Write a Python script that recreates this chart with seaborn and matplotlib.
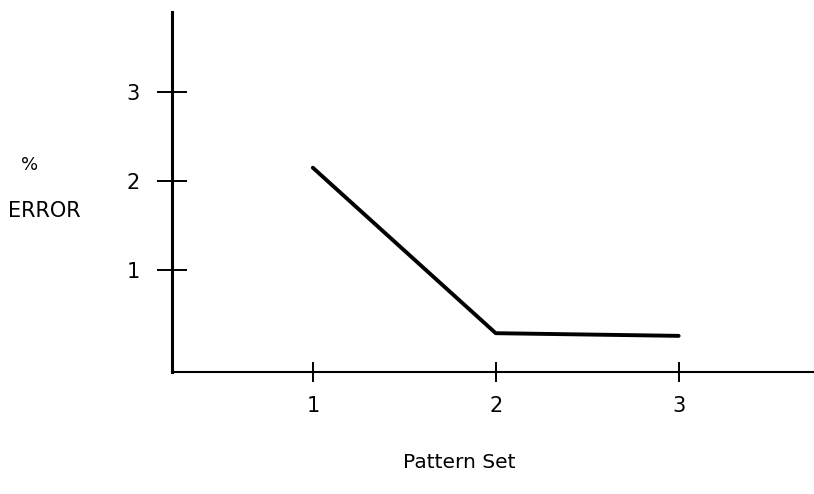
import matplotlib
matplotlib.use('Agg')
import matplotlib.pyplot as plt
import seaborn as sns
import pandas as pd

# Data
pattern_set = [1, 2, 3]
pct_error = [2.15, 0.29, 0.26]
x_ticks = [1, 2, 3]
y_ticks = [1, 2, 3]

df = pd.DataFrame({'Pattern Set': pattern_set, 'Error': pct_error})

sns.set_style('white')
plt.rcParams['font.family'] = ['DejaVu Sans']
plt.rcParams['text.color'] = 'black'
plt.rcParams['xtick.color'] = 'black'
plt.rcParams['ytick.color'] = 'black'

fig = plt.figure(figsize=(8.14, 4.94), dpi=100)
ax = fig.add_axes([0.2113, 0.247, 0.7887, 0.7287])

sns.lineplot(data=df, x='Pattern Set', y='Error', ax=ax, color='black', linewidth=2.8)

ax.set_xlim(0.23, 3.74)
ax.set_ylim(-0.146, 3.9)
ax.set_xticks(x_ticks)
ax.set_yticks(y_ticks)
ax.set_xticklabels([str(t) for t in x_ticks], fontsize=15)
ax.set_yticklabels([str(t) for t in y_ticks], fontsize=15)
ax.tick_params(axis='y', direction='inout', length=22, width=1.4, pad=12, left=True, labelcolor='black')
ax.tick_params(axis='x', direction='inout', length=14, width=1.4, pad=10, bottom=True, labelcolor='black')

for side in ['top', 'right']:
    ax.spines[side].set_visible(False)
ax.spines['left'].set_linewidth(2.2)
ax.spines['bottom'].set_linewidth(1.5)
ax.spines['left'].set_color('black')
ax.spines['bottom'].set_color('black')

ax.set_xlabel('')
ax.set_ylabel('')

fig.text(30 / 814, 1 - 165 / 494, '%', fontsize=13, ha='center', va='center', color='black')
fig.text(44 / 814, 1 - 211 / 494, 'ERROR', fontsize=15, ha='center', va='center', color='black')
fig.text(459 / 814, 1 - 462 / 494, 'Pattern Set', fontsize=14.5, ha='center', va='center', color='black')

fig.savefig('out.png', dpi=100, facecolor='white')
